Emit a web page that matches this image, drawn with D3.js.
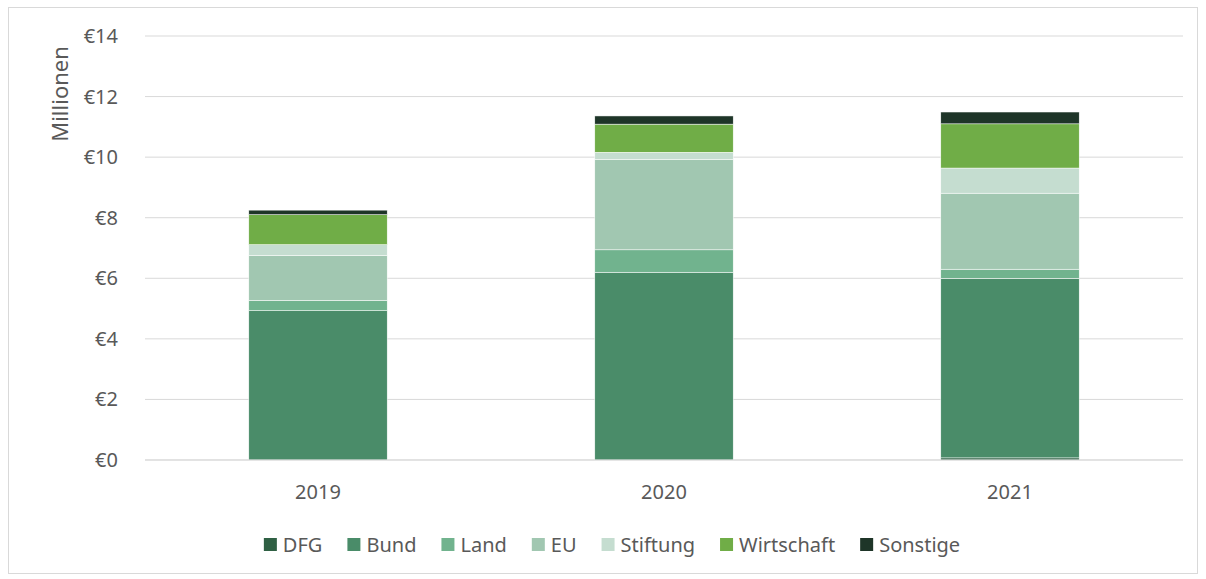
<!DOCTYPE html>
<html>
<head>
<meta charset="utf-8">
<script src="https://cdn.jsdelivr.net/npm/d3@7"></script>
<style>
  body { margin: 0; background: #fff; }
  text { font-family: "Noto Sans", "Open Sans", sans-serif; fill: #595959; }
</style>
</head>
<body>
<svg id="chart" width="1206" height="579"></svg>
<script>
// data (Millionen €)
var years = ["2019", "2020", "2021"];
var series = ["DFG", "Bund", "Land", "EU", "Stiftung", "Wirtschaft", "Sonstige"];
var dfg        = [0.00, 0.00, 0.07];
var bund       = [4.93, 6.20, 5.93];
var land       = [0.34, 0.74, 0.30];
var eu         = [1.49, 2.99, 2.51];
var stiftung   = [0.35, 0.23, 0.83];
var wirtschaft = [0.99, 0.93, 1.46];
var sonstige   = [0.15, 0.27, 0.39];
var yTicks = [0, 2, 4, 6, 8, 10, 12, 14];
var colors = ["#2f6044", "#4a8c69", "#71b38e", "#a1c7b1", "#c5ddd0", "#70ad47", "#1e3528"];

var values = [dfg, bund, land, eu, stiftung, wirtschaft, sonstige];
var rows = years.map(function(y, i) {
    var r = {year: y};
    series.forEach(function(s, j) { r[s] = values[j][i]; });
    return r;
});

var svg = d3.select("#chart");

// outer border
svg.append("rect")
    .attr("x", 8.5).attr("y", 7.5)
    .attr("width", 1189).attr("height", 566)
    .attr("fill", "none")
    .attr("stroke", "#d9d9d9");

var margin = {left: 145, right: 1183, top: 36, bottom: 460};

var x = d3.scaleBand().domain(years)
    .range([margin.left, margin.right])
    .paddingInner(0.6).paddingOuter(0.3);

var y = d3.scaleLinear().domain([0, 14]).range([margin.bottom, margin.top]);

// gridlines
svg.append("g").selectAll("line")
    .data(yTicks)
    .join("line")
    .attr("x1", margin.left).attr("x2", margin.right)
    .attr("y1", function(d) { return y(d); })
    .attr("y2", function(d) { return y(d); })
    .attr("stroke", "#d9d9d9")
    .attr("stroke-width", 1);

// y tick labels
svg.append("g").selectAll("text")
    .data(yTicks)
    .join("text")
    .attr("x", 118)
    .attr("y", function(d) { return y(d); })
    .attr("dy", "0.35em")
    .attr("text-anchor", "end")
    .style("font-size", "20px")
    .text(function(d) { return "€" + d; });

svg.append("text")
    .attr("transform", "translate(60,94) rotate(-90)")
    .attr("text-anchor", "middle")
    .attr("dy", "0.35em")
    .style("font-size", "22px")
    .text("Millionen");

// stacked bars
var stack = d3.stack().keys(series)(rows);

svg.append("g").selectAll("g")
    .data(stack)
    .join("g")
    .attr("fill", function(d, i) { return colors[i]; })
    .selectAll("rect")
    .data(function(d) { return d; })
    .join("rect")
    .attr("x", function(d) { return x(d.data.year); })
    .attr("width", x.bandwidth())
    .attr("y", function(d) { return y(d[1]); })
    .attr("height", function(d) { return Math.max(0, y(d[0]) - y(d[1])); })
    .attr("stroke", "#ffffff")
    .attr("stroke-width", 0.5);

// baseline
svg.append("line")
    .attr("x1", margin.left).attr("x2", margin.right)
    .attr("y1", y(0)).attr("y2", y(0))
    .attr("stroke", "#d9d9d9");

// x labels
svg.append("g").selectAll("text")
    .data(years)
    .join("text")
    .attr("x", function(d) { return x(d) + x.bandwidth() / 2; })
    .attr("y", 492)
    .attr("dy", "0.35em")
    .attr("text-anchor", "middle")
    .style("font-size", "20px")
    .text(function(d) { return d; });

// legend
var legend = svg.append("g");
var items = legend.selectAll("g")
    .data(series)
    .join("g");
items.append("rect")
    .attr("width", 13).attr("height", 13)
    .attr("y", -7)
    .attr("fill", function(d, i) { return colors[i]; });
items.append("text")
    .attr("x", 19)
    .attr("dy", "0.35em")
    .style("font-size", "20px")
    .text(function(d) { return d; });

var pos = 0;
items.each(function() {
    var w = this.getBBox().width;
    d3.select(this).attr("transform", "translate(" + pos + ",545)");
    pos += w + 25;
});
var total = pos - 25;
legend.attr("transform", "translate(" + (612 - total / 2) + ",0)");
</script>
</body>
</html>
